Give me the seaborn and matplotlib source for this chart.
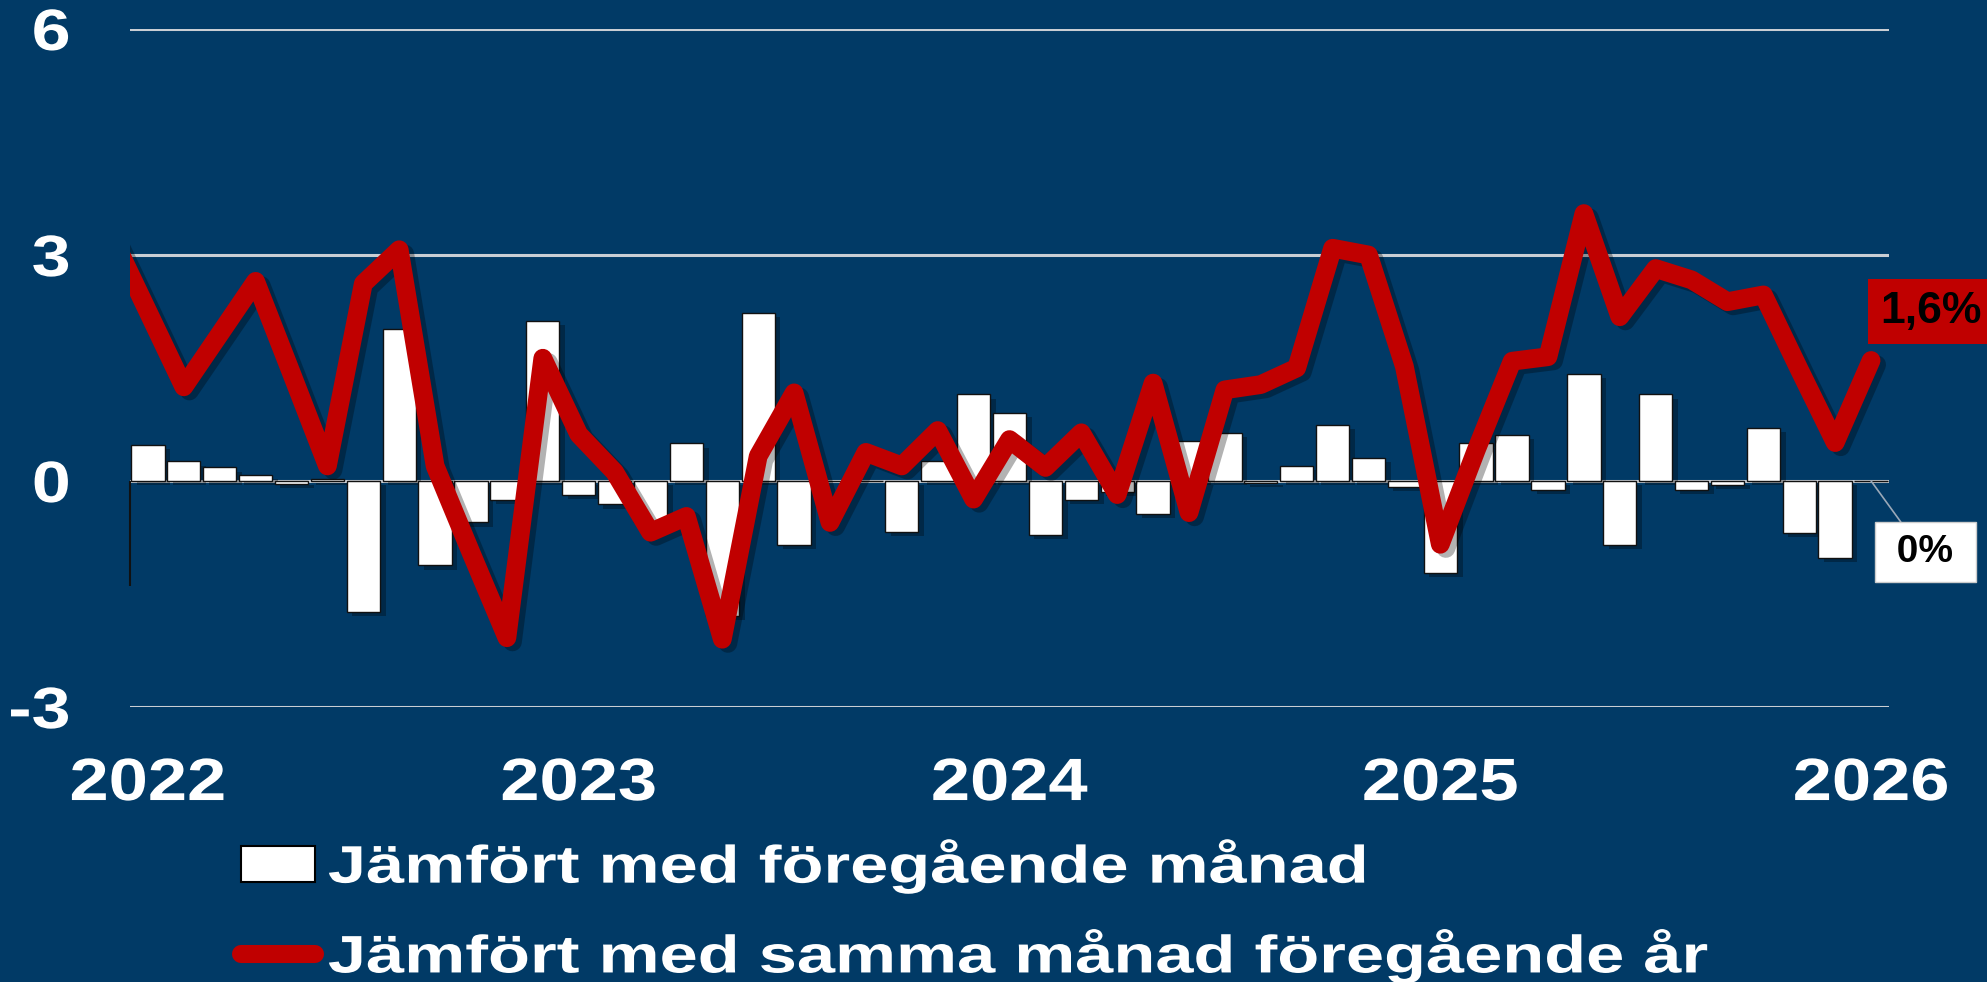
import numpy as np
import pandas as pd
import matplotlib
matplotlib.use('Agg')
import matplotlib.pyplot as plt
import matplotlib.patheffects as pe
from matplotlib.patches import Patch
from matplotlib.lines import Line2D
from matplotlib.transforms import Affine2D
import seaborn as sns

# monthly change, Jan 2022 .. Jan 2026 (percent)
mom_change = [0.48, 0.26, 0.18, 0.08, -0.04, 0.03, -1.74, 2.02, -1.12, -0.55, -0.25, 2.12,
              -0.18, -0.31, -0.55, 0.50, -1.79, 2.23, -0.85, 0.00, 0.00, -0.68, 0.27, 1.15,
              0.90, -0.72, -0.25, -0.15, -0.44, 0.53, 0.64, -0.02, 0.20, 0.74, 0.31, -0.08,
              -1.22, 0.50, 0.61, -0.12, 1.42, -0.85, 1.15, -0.12, -0.05, 0.71, -0.69, -1.02,
              0.00]

# change vs same month previous year, Dec 2021 .. Jan 2026 (percent)
yoy_change = [3.25,
              2.25, 1.25, 1.95, 2.65, 1.43, 0.20, 2.62, 3.07, 0.20, -0.95, -2.08, 1.63,
              0.62, 0.12, -0.68, -0.47, -2.10, 0.33, 1.17, -0.55, 0.38, 0.20, 0.67, -0.24,
              0.55, 0.18, 0.64, -0.18, 1.30, -0.42, 1.21, 1.28, 1.50, 3.09, 3.00, 1.52,
              -0.84, 0.41, 1.59, 1.65, 3.55, 2.18, 2.82, 2.67, 2.38, 2.47, 1.48, 0.51,
              1.60]

year_labels = ['2022', '2023', '2024', '2025', '2026']
y_ticks = [-3, 0, 3, 6]
label_mom = 'Jämfört med föregående månad'
label_yoy = 'Jämfört med samma månad föregående år'
axis_stub = -1.4

bg = '#013A66'
red = '#C00000'


class Stretch(pe.AbstractPathEffect):
    # widen text horizontally, the original lettering is stretched
    def __init__(self, sx, anchor='center'):
        super().__init__()
        self.sx = sx
        self.anchor = anchor

    def draw_path(self, renderer, gc, tpath, affine, rgbFace=None):
        ext = tpath.get_extents()
        x0 = {'left': ext.x0, 'center': (ext.x0 + ext.x1) / 2, 'right': ext.x1}[self.anchor]
        t = Affine2D().translate(-x0, 0).scale(self.sx, 1).translate(x0, 0) + affine
        renderer.draw_path(gc, tpath, t, rgbFace)


plt.rcParams['font.family'] = ['Liberation Sans', 'DejaVu Sans']
plt.rcParams['font.weight'] = 'bold'

fig = plt.figure(figsize=(19.87, 9.82), dpi=100, facecolor=bg)
ax = fig.add_axes([0.0654, 0.280, 0.8853, 0.6905])
ax.set_facecolor(bg)

months = pd.date_range('2022-01-01', periods=len(mom_change), freq='MS')
df_bar = pd.DataFrame({'pos': np.arange(len(months)), 'mom': mom_change})
df_line = pd.DataFrame({'pos': np.arange(-1, len(months)), 'yoy': yoy_change})

sns.barplot(data=df_bar, x='pos', y='mom', color='white', saturation=1,
            edgecolor='#111111', linewidth=1, width=0.93, ax=ax)
for p in ax.patches:
    p.set_path_effects([pe.withSimplePatchShadow(offset=(4, -3), shadow_rgbFace='black', alpha=0.3)])

sns.lineplot(data=df_line, x='pos', y='yoy', color=red, linewidth=13.5, sort=False, ax=ax)
line = ax.lines[-1]
line.set_solid_capstyle('round')
line.set_solid_joinstyle('round')
line.set_path_effects([pe.SimpleLineShadow(offset=(4, -3), shadow_color='black', alpha=0.3), pe.Normal()])

ax.set_xlim(-0.5, len(months) - 0.5)
ax.set_ylim(y_ticks[0], y_ticks[-1])
ax.set_xlabel('')
ax.set_ylabel('')

ax.set_yticks(y_ticks, [str(v) for v in y_ticks])
ax.set_xticks(np.arange(0, len(months), 12), year_labels)
ax.tick_params(axis='y', length=0, pad=43, labelsize=42, labelcolor='white')
ax.tick_params(axis='x', length=0, pad=36, labelsize=43, labelcolor='white')
for t in ax.get_yticklabels():
    t.set_path_effects([Stretch(1.2, 'right')])
for t in ax.get_xticklabels():
    t.set_path_effects([Stretch(1.18, 'center')])

ax.grid(axis='y', color='#C9CED4', linewidth=2.2)
ax.grid(axis='x', visible=False)
ax.set_axisbelow(True)
for s in ax.spines.values():
    s.set_visible(False)
ax.vlines(-0.5, axis_stub, 0, color='#111111', linewidth=1.5, clip_on=False)

# end labels
last = len(months) - 1
yoy_txt = f'{yoy_change[-1]:.1f}'.replace('.', ',') + '%'
ax.annotate(yoy_txt, xy=(last, yoy_change[-1]), xytext=(60, 49), textcoords='offset pixels',
            ha='center', va='center', fontsize=32, color='black', annotation_clip=False,
            bbox=dict(boxstyle='square,pad=0.27', fc=red, ec='none'))
mom_txt = f' {mom_change[-1]:.0f}% '
ax.annotate(mom_txt, xy=(last, mom_change[-1]), xytext=(54, -71), textcoords='offset pixels',
            ha='center', va='center', fontsize=28, color='black', annotation_clip=False,
            bbox=dict(boxstyle='square,pad=0.3', fc='white', ec='#cccccc', lw=1),
            arrowprops=dict(arrowstyle='-', color='#9aa8b8', lw=1.2, shrinkA=0, shrinkB=0,
                            relpos=(0.3, 1.0)))

handles = [Patch(facecolor='white', edgecolor='black', linewidth=1.5),
           Line2D([0], [0], color=red, linewidth=13, solid_capstyle='round')]
leg = fig.legend(handles, [label_mom, label_yoy], loc='upper left',
                 bbox_to_anchor=(0.1213, 0.146), frameon=False, borderpad=0,
                 borderaxespad=0, handlelength=1.4, handleheight=0.65,
                 handletextpad=0.25, labelspacing=0.66,
                 prop={'family': 'Liberation Sans', 'weight': 'bold', 'size': 38})
for t in leg.get_texts():
    t.set_color('white')
    t.set_path_effects([Stretch(1.3, 'left')])

fig.savefig('out.png', dpi=100, facecolor=bg)
